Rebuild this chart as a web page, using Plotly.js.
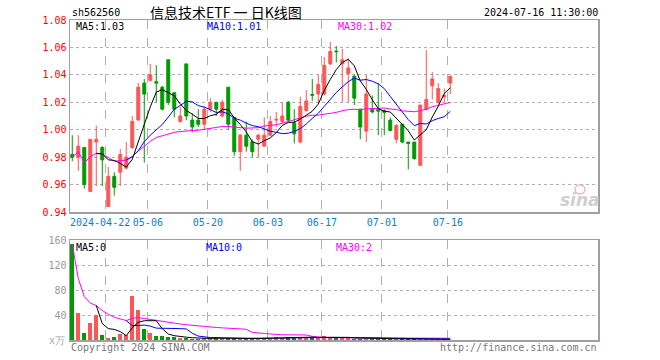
<!DOCTYPE html>
<html><head><meta charset="utf-8">
<script src="https://cdn.plot.ly/plotly-3.0.1.min.js"></script>
<style>html,body{margin:0;padding:0;background:#fff}#c{width:660px;height:360px}</style>
</head><body><div id="c"></div>
<script>
// ---- data (trading-day index 0 = 2024-04-12 ... 63 = 2024-07-16) ----
var openP  = [0.982,0.980,0.987,0.955,0.991,0.987,0.944,0.966,0.969,0.972,
              0.987,1.007,1.034,1.036,1.035,1.031,1.051,1.027,1.006,1.048,
              1.007,1.007,1.004,1.015,1.020,1.010,1.031,1.009,0.984,0.996,
              0.991,0.993,0.988,0.996,1.007,1.006,1.020,1.005,0.991,1.014,
              1.0257,1.026,1.026,1.048,1.0573,1.048,1.041,1.039,1.015,0.999,
              1.015,1.015,1.014,1.007,0.993,1.004,0.991,0.991,0.974,1.015,
              1.032,1.020,1.024,1.034];
var highP  = [0.996,0.996,0.987,0.993,1.003,0.988,0.973,0.969,0.986,0.991,
              1.010,1.034,1.037,1.048,1.047,1.032,1.051,1.027,1.017,1.048,
              1.012,1.015,1.017,1.023,1.020,1.022,1.031,1.009,0.997,1.006,
              0.993,0.997,1.009,1.010,1.013,1.020,1.021,1.015,1.024,1.029,
              1.037,1.040,1.053,1.064,1.061,1.059,1.052,1.040,1.015,1.040,
              1.025,1.034,1.015,1.009,1.004,1.004,0.991,0.991,1.018,1.058,
              1.042,1.034,1.030,1.039];
var lowP   = [0.977,0.970,0.957,0.955,0.959,0.959,0.944,0.952,0.959,0.971,
              0.986,1.007,0.976,1.035,1.020,1.014,1.018,1.009,1.005,1.007,
              0.998,1.002,1.000,1.013,1.010,1.009,1.000,0.981,0.970,0.984,
              0.980,0.980,0.988,0.995,1.002,1.004,1.006,0.990,0.990,1.013,
              1.021,1.019,1.025,1.047,1.049,1.020,1.020,1.018,0.993,0.991,
              1.012,0.996,0.996,0.999,0.990,0.990,0.971,0.978,0.9735,1.014,
              1.022,1.019,1.020,1.026];
var closeP = [0.980,0.988,0.960,0.993,0.993,0.978,0.966,0.958,0.982,0.980,
              1.006,1.031,1.026,1.040,1.034,1.015,1.020,1.015,1.010,1.010,
              1.002,1.004,1.015,1.020,1.015,1.020,1.004,0.984,0.996,0.988,
              0.984,0.996,0.996,1.006,1.0075,1.010,1.007,0.997,1.017,1.021,
              1.0252,1.033,1.047,1.057,1.0569,1.051,1.045,1.023,1.002,1.026,
              1.013,1.0135,1.0127,0.9995,1.003,0.991,0.990,0.979,1.018,1.022,
              1.037,1.030,1.025,1.039];
var volume = [153,43.7,11.7,27.7,40,8,3.7,5.3,10,8,
              70.5,48,17.6,11.7,6.6,6.6,5.3,4.3,3.7,2.7,
              2.2,2.2,2.7,2.7,4.8,2.7,2.7,2.7,2.2,2.7,
              2.2,2.2,2.7,2.2,4.3,3.7,4.3,5.3,4.8,3.2,
              5,2.7,6.4,4,2.7,4.8,3.2,2.2,2.2,2.2,
              2.2,2.2,2.2,1.6,1.8,1.6,1.6,1.6,1.4,1.4,
              1.4,1.4,1.2,0.6];
var tickIdx    = [6,13,23,33,42,52,63];
var tickLabels = ['2024-04-22','05-06','05-20','06-03','06-17','07-01','07-16'];
var priceTicks = [0.94,0.96,0.98,1.00,1.02,1.04,1.06,1.08];
var volTicks   = [40,80,120,160];

// ---- derived ----
var idx = closeP.map(function(_,i){return i;});
function ma(arr,n,cum){
  return arr.map(function(_,i){
    if(i<n-1 && !cum) return null;
    var s=Math.max(0,i-n+1),t=0;
    for(var k=s;k<=i;k++)t+=arr[k];
    return t/(i-s+1);
  });
}
var UP='#ff5555', DN='#009900';
var volColors = closeP.map(function(c,i){return c>=openP[i]?UP:DN;});
var gridX = tickIdx.map(function(v){return v-0.4;});
// first (long) date label is drawn as an annotation so it does not collide with the next one
var axisTickText = tickLabels.map(function(t,i){return i===0?'':t;});

var mono='"DejaVu Sans Mono", "Liberation Mono", monospace';
var traces = [
  {type:'candlestick', x:idx, open:openP, high:highP, low:lowP, close:closeP,
   xaxis:'x', yaxis:'y',
   increasing:{line:{color:UP,width:1},fillcolor:UP},
   decreasing:{line:{color:DN,width:1},fillcolor:DN},
   whiskerwidth:0, hoverinfo:'skip', showlegend:false},
  {type:'scatter',mode:'lines',x:idx,y:ma(closeP,30,true),line:{color:'#ff00ff',width:1},xaxis:'x',yaxis:'y',showlegend:false,hoverinfo:'skip'},
  {type:'scatter',mode:'lines',x:idx,y:ma(closeP,10,false),line:{color:'#0000ff',width:1},xaxis:'x',yaxis:'y',showlegend:false,hoverinfo:'skip'},
  {type:'scatter',mode:'lines',x:idx,y:ma(closeP,5,false),line:{color:'#000000',width:1},xaxis:'x',yaxis:'y',showlegend:false,hoverinfo:'skip'},
  {type:'bar',x:idx,y:volume,marker:{color:volColors,line:{width:0}},width:0.7,xaxis:'x2',yaxis:'y2',showlegend:false,hoverinfo:'skip'},
  {type:'scatter',mode:'lines',x:idx,y:ma(volume,30,true),line:{color:'#ff00ff',width:1},xaxis:'x2',yaxis:'y2',showlegend:false,hoverinfo:'skip'},
  {type:'scatter',mode:'lines',x:idx,y:ma(volume,10,false),line:{color:'#0000ff',width:1},xaxis:'x2',yaxis:'y2',showlegend:false,hoverinfo:'skip'},
  {type:'scatter',mode:'lines',x:idx,y:ma(volume,5,false),line:{color:'#000000',width:1},xaxis:'x2',yaxis:'y2',showlegend:false,hoverinfo:'skip'}
];

function P(px){return (px-70)/528;}
function Q(py){return (340-py)/320;}
function ann(text,px,py,color,anchor,size,family){
  return {text:text,x:P(px),y:Q(py),xref:'paper',yref:'paper',showarrow:false,
          xanchor:anchor||'left',yanchor:'middle',
          font:{family:family||mono,size:size||10,color:color||'#000'}};
}
var xr=[-0.38,87.62];
var axX = {range:xr, showgrid:true, griddash:'dash', gridcolor:'#b0b0b0', gridwidth:1,
           tickvals:gridX, zeroline:false, showline:true, mirror:true, linecolor:'#a0a0a0', linewidth:1.5,
           ticks:'', fixedrange:true, tickangle:0};
var layout = {
  width:660, height:360, paper_bgcolor:'#fff', plot_bgcolor:'#fff',
  margin:{l:70,r:62,t:20,b:20}, bargap:0, hovermode:false,
  xaxis: Object.assign({}, axX, {domain:[0,1], anchor:'y', ticktext:axisTickText, showticklabels:true,
          tickfont:{family:mono,size:10,color:'#0a7fd0'}, rangeslider:{visible:false}}),
  xaxis2: Object.assign({}, axX, {domain:[0,1], anchor:'y2', showticklabels:false}),
  yaxis: {domain:[0.4,1], range:[0.94,1.08], tickvals:priceTicks,
          ticktext:priceTicks.map(function(v){return v.toFixed(2);}),
          tickfont:{family:mono,size:10,color:'#ff0000'}, showgrid:true, griddash:'dot',
          gridcolor:'#b0b0b0', zeroline:false, showline:true, mirror:true, linecolor:'#a0a0a0', linewidth:1.5, ticks:'', fixedrange:true},
  yaxis2: {domain:[0,0.3125], range:[0,160], tickvals:volTicks, ticktext:volTicks.map(String),
          tickfont:{family:mono,size:10,color:'#999'}, showgrid:true, griddash:'dot',
          gridcolor:'#b0b0b0', zeroline:false, showline:true, mirror:true, linecolor:'#a0a0a0', linewidth:1.5, ticks:'', fixedrange:true},
  annotations:[
    {text:tickLabels[0],x:gridX[0],y:Q(222),xref:'x',yref:'paper',showarrow:false,
     xanchor:'right',xshift:26,yanchor:'middle',font:{family:mono,size:10,color:'#0a7fd0'}},
    ann('sh562560',70,12,'#000','left',10),
    ann('信息技术ETF 一 日K线图',226,12,'#000','center',14,'"Noto Sans CJK SC", sans-serif'),
    ann('2024-07-16 11:30:00',600,12,'#000','right',10),
    ann('MA5:1.03',74,27,'#000','left',10),
    ann('MA10:1.01',205,27,'#0000ff','left',10),
    ann('MA30:1.02',336,27,'#ff00ff','left',10),
    ann('MA5:0',74,247,'#000','left',10),
    ann('MA10:0',204,247,'#0000ff','left',10),
    ann('MA30:2',334,247,'#ff00ff','left',10),
    ann('x万',67,340,'#aaa','right',10),
    ann('Copyright 2024 SINA.COM',69,347,'#777','left',10),
    ann('http://finance.sina.com.cn',599,347,'#777','right',10),
    {text:'<b><i>sina</i></b>',x:P(580),y:Q(200),xref:'paper',yref:'paper',showarrow:false,
     xanchor:'center',yanchor:'middle',font:{family:'"DejaVu Sans", sans-serif',size:17,color:'#cfcfcf'}}
  ],
  shapes:[
    {type:'circle',xref:'paper',yref:'paper',x0:P(575),x1:P(585),y0:Q(194),y1:Q(185),
     line:{color:'#f2b8b8',width:1.5},fillcolor:'rgba(0,0,0,0)'}
  ]
};
Plotly.newPlot('c',traces,layout,{staticPlot:true,displayModeBar:false});
</script>
</body></html>
